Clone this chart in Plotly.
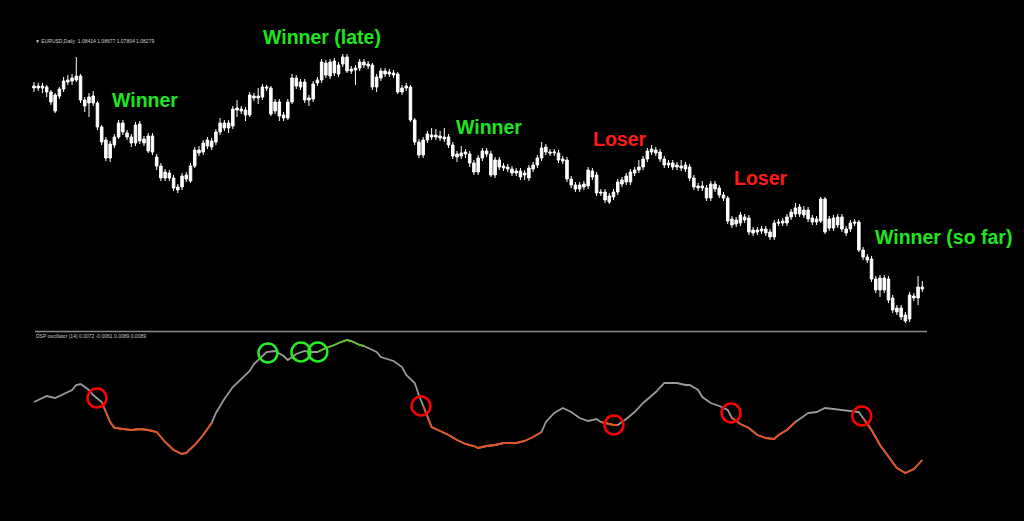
import plotly.graph_objects as go

# ---------------- data ----------------
bars = list(range(211))

opens = [
1.1114,1.1112,1.1114,1.1113,1.1108,1.1105,1.1104,1.1111,1.1120,1.1119,
1.1120,1.1124,1.1100,1.1097,1.1097,1.1097,1.1073,1.1060,1.1042,1.1055,
1.1063,1.1077,1.1067,1.1063,1.1057,1.1076,1.1061,1.1049,1.1064,1.1043,
1.1034,1.1022,1.1027,1.1022,1.1013,1.1013,1.1025,1.1019,1.1034,1.1050,
1.1048,1.1054,1.1059,1.1058,1.1068,1.1077,1.1072,1.1074,1.1092,1.1091,
1.1090,1.1085,1.1104,1.1102,1.1103,1.1113,1.1112,1.1089,1.1098,1.1085,
1.1082,1.1098,1.1122,1.1118,1.1118,1.1102,1.1101,1.1117,1.1120,1.1137,
1.1124,1.1127,1.1135,1.1136,1.1143,1.1131,1.1132,1.1132,1.1138,1.1136,
1.1135,1.1113,1.1122,1.1129,1.1128,1.1127,1.1126,1.1108,1.1112,1.1113,
1.1080,1.1058,1.1045,1.1060,1.1065,1.1063,1.1064,1.1063,1.1063,1.1055,
1.1046,1.1044,1.1048,1.1046,1.1037,1.1028,1.1042,1.1049,1.1046,1.1025,
1.1040,1.1034,1.1033,1.1031,1.1029,1.1029,1.1027,1.1022,1.1031,1.1035,
1.1042,1.1053,1.1048,1.1047,1.1047,1.1041,1.1040,1.1021,1.1015,1.1011,
1.1013,1.1014,1.1029,1.1025,1.1008,1.1008,1.1004,1.1003,1.1008,1.1016,
1.1018,1.1018,1.1027,1.1030,1.1033,1.1041,1.1051,1.1050,1.1048,1.1041,
1.1037,1.1037,1.1035,1.1034,1.1031,1.1033,1.1022,1.1014,1.1012,1.1012,
1.1002,1.1016,1.1012,1.1005,1.1002,1.0981,1.0976,1.0977,1.0983,1.0982,
1.0970,1.0968,1.0971,1.0971,1.0968,1.0963,1.0978,1.0977,1.0977,1.0983,
1.0986,1.0993,1.0990,1.0990,1.0982,1.0978,1.0979,1.1001,1.0972,1.0982,
1.0975,1.0983,1.0971,1.0971,1.0978,1.0978,1.0950,1.0943,1.0941,1.0921,
1.0910,1.0922,1.0921,1.0902,1.0892,1.0892,1.0885,1.0881,1.0904,1.0902,
1.0913]

highs = [
1.1118,1.1117,1.1117,1.1115,1.1110,1.1107,1.1113,1.1123,1.1125,1.1126,
1.1143,1.1126,1.1103,1.1107,1.1109,1.1099,1.1075,1.1063,1.1059,1.1066,
1.1080,1.1080,1.1070,1.1066,1.1078,1.1079,1.1064,1.1067,1.1067,1.1046,
1.1037,1.1031,1.1030,1.1025,1.1016,1.1027,1.1028,1.1037,1.1053,1.1054,
1.1060,1.1063,1.1062,1.1071,1.1082,1.1080,1.1080,1.1094,1.1100,1.1094,
1.1093,1.1108,1.1107,1.1112,1.1116,1.1115,1.1114,1.1101,1.1101,1.1088,
1.1101,1.1126,1.1125,1.1121,1.1121,1.1105,1.1119,1.1123,1.1141,1.1140,
1.1141,1.1142,1.1138,1.1146,1.1146,1.1134,1.1135,1.1141,1.1141,1.1139,
1.1137,1.1126,1.1132,1.1132,1.1131,1.1130,1.1128,1.1115,1.1117,1.1115,
1.1082,1.1061,1.1063,1.1069,1.1072,1.1071,1.1069,1.1072,1.1066,1.1058,
1.1049,1.1054,1.1051,1.1049,1.1040,1.1045,1.1052,1.1052,1.1049,1.1043,
1.1043,1.1037,1.1036,1.1034,1.1032,1.1032,1.1030,1.1035,1.1038,1.1045,
1.1058,1.1056,1.1051,1.1051,1.1050,1.1044,1.1043,1.1024,1.1018,1.1018,
1.1019,1.1033,1.1032,1.1028,1.1011,1.1011,1.1007,1.1011,1.1021,1.1023,
1.1027,1.1031,1.1033,1.1040,1.1044,1.1052,1.1055,1.1053,1.1051,1.1044,
1.1040,1.1040,1.1038,1.1040,1.1038,1.1036,1.1025,1.1017,1.1019,1.1015,
1.1019,1.1019,1.1015,1.1008,1.1004,1.0984,1.0983,1.0988,1.0986,1.0985,
1.0973,1.0973,1.0974,1.0974,1.0971,1.0980,1.0981,1.0982,1.0986,1.0991,
1.0997,1.0996,1.0994,1.0993,1.0985,1.0984,1.1003,1.1003,1.0984,1.0985,
1.0986,1.0986,1.0974,1.0980,1.0981,1.0980,1.0953,1.0946,1.0944,1.0924,
1.0925,1.0925,1.0924,1.0905,1.0895,1.0895,1.0888,1.0908,1.0907,1.0924,
1.0919]

lows = [
1.1108,1.1109,1.1107,1.1103,1.1095,1.1087,1.1101,1.1108,1.1115,1.1115,
1.1118,1.1097,1.1088,1.1083,1.1094,1.1070,1.1055,1.1039,1.1038,1.1052,
1.1061,1.1065,1.1060,1.1053,1.1054,1.1056,1.1054,1.1047,1.1045,1.1030,
1.1019,1.1019,1.1019,1.1009,1.1007,1.1010,1.1018,1.1017,1.1032,1.1044,
1.1045,1.1051,1.1050,1.1055,1.1065,1.1069,1.1067,1.1071,1.1083,1.1086,
1.1079,1.1083,1.1099,1.1096,1.1100,1.1109,1.1084,1.1086,1.1079,1.1079,
1.1080,1.1096,1.1111,1.1110,1.1097,1.1094,1.1098,1.1114,1.1117,1.1122,
1.1121,1.1124,1.1123,1.1133,1.1127,1.1126,1.1115,1.1129,1.1132,1.1131,
1.1110,1.1108,1.1119,1.1123,1.1123,1.1122,1.1106,1.1105,1.1109,1.1078,
1.1055,1.1042,1.1042,1.1057,1.1060,1.1060,1.1059,1.1058,1.1052,1.1041,
1.1038,1.1041,1.1042,1.1033,1.1025,1.1025,1.1039,1.1043,1.1023,1.1022,
1.1030,1.1029,1.1028,1.1024,1.1024,1.1020,1.1020,1.1019,1.1028,1.1032,
1.1039,1.1045,1.1044,1.1044,1.1037,1.1036,1.1018,1.1012,1.1008,1.1008,
1.1010,1.1011,1.1020,1.1004,1.1004,1.0997,1.0996,1.1000,1.1005,1.1013,
1.1015,1.1015,1.1024,1.1027,1.1030,1.1038,1.1045,1.1044,1.1038,1.1032,
1.1032,1.1030,1.1030,1.1029,1.1028,1.1019,1.1010,1.1009,1.1009,1.0999,
1.0999,1.1008,1.1002,1.0999,1.0976,1.0972,1.0973,1.0974,1.0977,1.0965,
1.0964,1.0965,1.0966,1.0964,1.0960,1.0960,1.0974,1.0974,1.0974,1.0980,
1.0983,1.0983,1.0982,1.0978,1.0975,1.0975,1.0977,1.0966,1.0969,1.0969,
1.0972,1.0968,1.0964,1.0968,1.0974,1.0948,1.0940,1.0937,1.0918,1.0907,
1.0903,1.0907,1.0897,1.0887,1.0885,1.0880,1.0877,1.0878,1.0899,1.0895,
1.0908]

closes = [
1.1112,1.1114,1.1112,1.1108,1.1098,1.1089,1.1111,1.1119,1.1118,1.1122,
1.1124,1.1100,1.1094,1.1103,1.1104,1.1073,1.1058,1.1042,1.1056,1.1063,
1.1077,1.1068,1.1063,1.1057,1.1075,1.1059,1.1057,1.1064,1.1048,1.1034,
1.1022,1.1028,1.1022,1.1012,1.1010,1.1024,1.1021,1.1034,1.1050,1.1047,
1.1057,1.1060,1.1053,1.1068,1.1077,1.1072,1.1077,1.1091,1.1090,1.1089,
1.1085,1.1105,1.1102,1.1104,1.1113,1.1112,1.1086,1.1098,1.1084,1.1082,
1.1098,1.1122,1.1114,1.1113,1.1100,1.1100,1.1116,1.1120,1.1138,1.1125,
1.1138,1.1139,1.1126,1.1143,1.1129,1.1129,1.1130,1.1138,1.1135,1.1134,
1.1113,1.1123,1.1129,1.1126,1.1126,1.1125,1.1108,1.1112,1.1114,1.1080,
1.1058,1.1045,1.1060,1.1066,1.1063,1.1065,1.1062,1.1061,1.1055,1.1044,
1.1043,1.1047,1.1046,1.1037,1.1028,1.1042,1.1049,1.1046,1.1025,1.1040,
1.1033,1.1032,1.1031,1.1027,1.1027,1.1023,1.1025,1.1032,1.1035,1.1042,
1.1052,1.1048,1.1047,1.1048,1.1040,1.1039,1.1021,1.1015,1.1011,1.1015,
1.1016,1.1030,1.1023,1.1007,1.1007,1.1000,1.0998,1.1008,1.1018,1.1020,
1.1024,1.1028,1.1030,1.1033,1.1041,1.1049,1.1048,1.1047,1.1041,1.1035,
1.1035,1.1033,1.1033,1.1032,1.1035,1.1022,1.1013,1.1012,1.1014,1.1002,
1.1016,1.1011,1.1005,1.1002,1.0979,1.0975,1.0980,1.0985,1.0980,1.0968,
1.0967,1.0970,1.0969,1.0967,1.0963,1.0977,1.0977,1.0979,1.0983,1.0988,
1.0992,1.0986,1.0985,1.0981,1.0978,1.0981,1.1001,1.0968,1.0981,1.0972,
1.0983,1.0971,1.0967,1.0977,1.0977,1.0950,1.0943,1.0940,1.0921,1.0910,
1.0922,1.0910,1.0900,1.0890,1.0888,1.0883,1.0879,1.0905,1.0902,1.0913,
1.0911]

osc_bars = [0, 3, 5, 7, 9, 10, 11, 13, 14, 16, 17, 18, 19, 22, 23, 25, 27, 29, 30, 31,
            33, 35, 36, 38, 40, 42, 43, 45, 47, 49, 51, 52, 54, 55, 57, 59, 60, 62, 64, 65,
            67, 69, 71, 72, 74, 75, 77, 78, 81, 82, 85, 87, 88, 90, 91, 92, 93, 94, 96, 98,
            100, 102, 104, 105, 107, 109, 111, 114, 116, 118, 120, 121, 123, 125, 127, 129, 131, 133, 134, 137,
            138, 140, 142, 144, 147, 149, 152, 154, 155, 157, 158, 160, 162, 164, 165, 167, 169, 171, 173, 175,
            176, 178, 180, 182, 183, 185, 187, 189, 191, 194, 195, 196, 198, 200, 202, 204, 206, 208, 210]
osc_vals = [-0.0002, 0.0004, 0.0002, 0.0006, 0.0010, 0.0015, 0.0016, 0.0010, 0.0005, -0.0002,
            -0.0012, -0.0022, -0.0028, -0.0029, -0.0030, -0.0029, -0.0030, -0.0032, -0.0037, -0.0042,
            -0.0050, -0.0054, -0.0053, -0.0045, -0.0035, -0.0023, -0.0013, 0.0001, 0.0013, 0.0021,
            0.0029, 0.0036, 0.0044, 0.0048, 0.0049, 0.0044, 0.0040, 0.0046, 0.0049, 0.0048,
            0.0048, 0.0052, 0.0055, 0.0057, 0.0060, 0.0059, 0.0055, 0.0054, 0.0048, 0.0043,
            0.0039, 0.0033, 0.0025, 0.0017, 0.0005, -0.0006, -0.0017, -0.0027, -0.0031, -0.0035,
            -0.0040, -0.0044, -0.0046, -0.0048, -0.0046, -0.0045, -0.0043, -0.0043, -0.0041, -0.0037,
            -0.0032, -0.0022, -0.0013, -0.0008, -0.0012, -0.0018, -0.0021, -0.0019, -0.0022, -0.0025,
            -0.0025, -0.0019, -0.0012, -0.0003, 0.0008, 0.0017, 0.0017, 0.0015, 0.0015, 0.0010,
            0.0003, -0.0003, -0.0006, -0.0010, -0.0018, -0.0024, -0.0028, -0.0035, -0.0038, -0.0039,
            -0.0035, -0.0030, -0.0022, -0.0016, -0.0013, -0.0012, -0.0008, -0.0009, -0.0010, -0.0011,
            -0.0012, -0.0018, -0.0030, -0.0045, -0.0056, -0.0068, -0.0073, -0.0069, -0.0060]

# colored stretches of the oscillator (bar index ranges)
seg_start = [16, 67, 92, 134, 165, 196]
seg_end = [42, 78, 120, 138, 180, 210]
seg_state = ["down", "up", "down", "down", "down", "down"]

red_circle_bars = [14.9, 91.5, 137.1, 164.8, 195.7]
red_circle_vals = [0.0002, -0.0006, -0.0025, -0.0013, -0.0016]
green_circle_bars = [55.3, 63.1, 67.1]
green_circle_vals = [0.0047, 0.0048, 0.0048]

labels = ["Winner", "Winner (late)", "Winner", "Loser", "Loser", "Winner (so far)"]
label_kind = ["win", "win", "win", "lose", "lose", "win"]

header_text = "\u25bc EURUSD,Daily  1.08414 1.08677 1.07804 1.08279"
osc_text = "DSP oscillator (14) 0.0072 -0.0061 0.0089 0.0089"

# ---------------- style / layout ----------------
W, H = 1024, 521
X0_PX, STEP = 34.0, 4.23
SPLIT = 1 - 331.0 / H

GREY = "#9a9a9a"
STATE_COLOR = {"down": "#e4521f", "up": "#5fc22c"}
TEXT_COLOR = {"win": "#1ee61e", "lose": "#ff1a1a"}
label_px = [(145, 100), (322, 37), (489, 127), (620, 139), (761, 178), (943, 237)]

fig = go.Figure()

fig.add_trace(go.Candlestick(
    x=bars, open=opens, high=highs, low=lows, close=closes,
    increasing=dict(line=dict(color="#ffffff", width=1), fillcolor="#ffffff"),
    decreasing=dict(line=dict(color="#ffffff", width=1), fillcolor="#ffffff"),
    whiskerwidth=0, hoverinfo="skip", showlegend=False,
    xaxis="x", yaxis="y"))

fig.add_trace(go.Scatter(x=osc_bars, y=osc_vals, mode="lines",
                         line=dict(color=GREY, width=1.8), hoverinfo="skip",
                         xaxis="x", yaxis="y2"))

for s, e, st in zip(seg_start, seg_end, seg_state):
    xs = [b for b in osc_bars if s <= b <= e]
    ys = [v for b, v in zip(osc_bars, osc_vals) if s <= b <= e]
    fig.add_trace(go.Scatter(x=xs, y=ys, mode="lines",
                             line=dict(color=STATE_COLOR[st], width=1.8),
                             hoverinfo="skip", xaxis="x", yaxis="y2"))

fig.add_trace(go.Scatter(x=red_circle_bars, y=red_circle_vals, mode="markers",
                         marker=dict(symbol="circle-open", size=19, color="#ff0000",
                                     line=dict(width=2.5)),
                         hoverinfo="skip", xaxis="x", yaxis="y2"))
fig.add_trace(go.Scatter(x=green_circle_bars, y=green_circle_vals, mode="markers",
                         marker=dict(symbol="circle-open", size=19, color="#22ee22",
                                     line=dict(width=2.5)),
                         hoverinfo="skip", xaxis="x", yaxis="y2"))

annotations = []
for txt, kind, (px, py) in zip(labels, label_kind, label_px):
    annotations.append(dict(text="<b>" + txt + "</b>", x=px / W, y=1 - py / H,
                            xref="paper", yref="paper", showarrow=False,
                            xanchor="center", yanchor="middle",
                            font=dict(family="Liberation Sans, Arial", size=19.5,
                                      color=TEXT_COLOR[kind])))
annotations.append(dict(text=header_text, x=33 / W, y=1 - 41 / H, xref="paper", yref="paper",
                        showarrow=False, xanchor="left", yanchor="middle",
                        font=dict(family="Liberation Sans, Arial", size=5, color="#d0d0d0")))
annotations.append(dict(text=osc_text, x=34 / W, y=1 - 336 / H, xref="paper", yref="paper",
                        showarrow=False, xanchor="left", yanchor="middle",
                        font=dict(family="Liberation Sans, Arial", size=5, color="#c8c8c8")))

fig.update_layout(
    width=W, height=H, margin=dict(l=0, r=0, t=0, b=0),
    paper_bgcolor="#000000", plot_bgcolor="#000000", showlegend=False,
    boxgap=0.15,
    xaxis=dict(range=[-X0_PX / STEP, (W - X0_PX) / STEP], visible=False,
               rangeslider=dict(visible=False), fixedrange=True),
    yaxis=dict(domain=[SPLIT, 1], range=[1.0869, 1.1200], visible=False, fixedrange=True),
    yaxis2=dict(domain=[0, SPLIT], range=[-0.0121, 0.0069], visible=False,
                anchor="x", fixedrange=True),
    annotations=annotations,
    shapes=[dict(type="line", xref="paper", yref="paper", x0=35 / W, x1=927 / W,
                 y0=1 - 331.5 / H, y1=1 - 331.5 / H,
                 line=dict(color="#8a8a8a", width=1.5))],
)

fig.write_html("out.html", config={"displayModeBar": False},
               post_script="document.body.style.margin='0';document.body.style.overflow='hidden';")
